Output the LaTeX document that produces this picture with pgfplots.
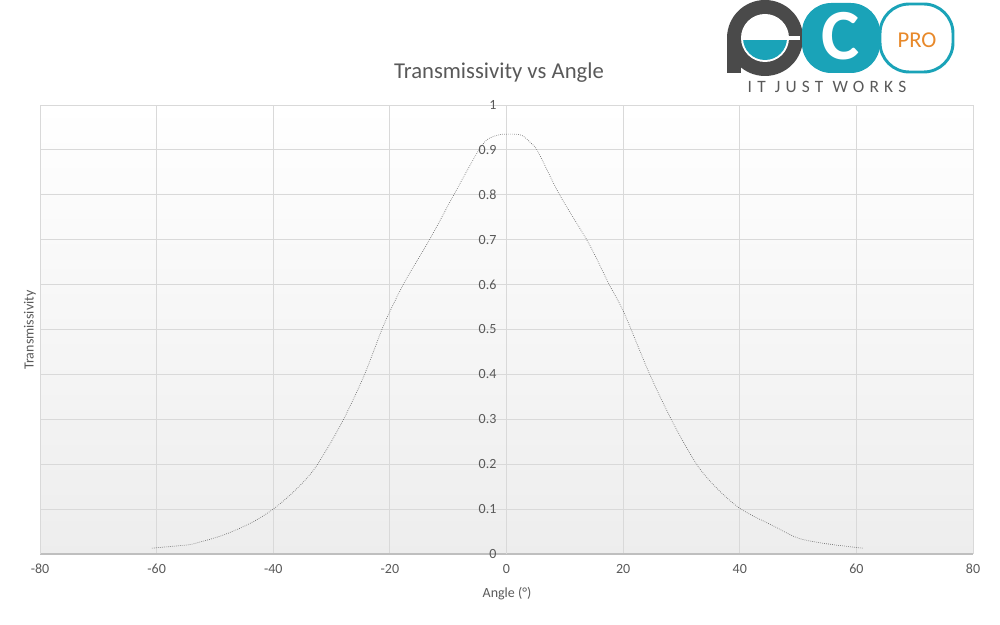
\documentclass[border=0pt]{standalone}
\usepackage{pgfplots}
\pgfplotsset{compat=1.18}
\usepackage{fontspec}
\setmainfont{Carlito}
\definecolor{txt}{HTML}{595959}
\definecolor{gridc}{HTML}{D9D9D9}
\definecolor{axc}{HTML}{BFBFBF}
\definecolor{teal1}{HTML}{1AA3B8}
\definecolor{dgray}{HTML}{4A4A4A}
\definecolor{orng}{HTML}{E8892A}
\begin{document}
\begin{tikzpicture}[x=0.75pt,y=0.75pt]
\path[use as bounding box] (0,0) rectangle (1000,625);
\begin{axis}[
  at={(30pt,53.25pt)}, anchor=south west,
  scale only axis, width=699.75pt, height=336.75pt,
  xmin=-80, xmax=80, ymin=0, ymax=1,
  xtick={-80,-60,...,80},
  ytick={0,0.1,...,1},
  axis x line*=bottom, axis y line*=left,
  x axis line style={-, draw=axc, line width=0.8pt},
  y axis line style={-, draw=gridc, line width=0.6pt},
  major tick length=0pt,
  grid=major,
  major grid style={draw=gridc, line width=0.6pt},
  extra x ticks={0}, extra x tick labels={},
  extra x tick style={grid style={draw=axc, line width=0.8pt}},
  axis background/.style={top color=white, middle color=white, bottom color=black!7},
  ticklabel style={font=\fontsize{10.5}{12}\selectfont, text=txt},
  /pgf/number format/assume math mode=true,
  yticklabel style={xshift=345.875pt},
  xticklabel style={yshift=-4pt},
  y tick label style={/pgf/number format/fixed},
]
\addplot[smooth, tension=0.5, draw=black!60, line width=0.5pt, densely dotted] coordinates {
(-60.8,0.013) (-55,0.020) (-53.3,0.024) (-48.6,0.042) (-44,0.068) (-40,0.100)
(-36,0.145) (-32.7,0.194) (-28.3,0.291) (-24.5,0.395) (-21.4,0.499) (-19.9,0.543)
(-17.3,0.610) (-13.2,0.700) (-9.2,0.796) (-5.1,0.892) (-3.4,0.922) (-1.5,0.933)
(0,0.935) (2.5,0.933) (4.2,0.915) (5.4,0.896) (9.1,0.800) (14.1,0.692)
(17.5,0.603) (20.2,0.536) (24.5,0.402) (28.6,0.291) (32.7,0.198) (36.1,0.146)
(40.2,0.100) (46.0,0.061) (50.1,0.035) (55.3,0.022) (61.1,0.013)
};
\end{axis}
% titles and labels
\node[text=txt, font=\fontsize{17}{20}\selectfont] at (499,552) {Transmissivity vs Angle};
\node[text=txt, font=\fontsize{10.5}{12}\selectfont, rotate=90] at (30,295) {Transmissivity};
\node[text=txt, font=\fontsize{10.5}{12}\selectfont] at (507,31) {Angle (°)};
% logo
\fill[dgray] (765,587) circle (38);
\fill[white] (765,587) circle (24);
\begin{scope}
\clip (765,587) circle (22);
\fill[teal1] (735,557) rectangle (800,587);
\end{scope}
\fill[dgray] (727,552) rectangle (741,587);
\fill[white] (741,585) rectangle (800,589);
\fill[teal1, rounded corners=22] (802,552) rectangle (880,622);
\node[white, font=\fontsize{54}{54}\selectfont\bfseries, inner sep=0pt] at (841,589) {C};
\draw[teal1, line width=2.2pt, rounded corners=22, fill=white] (880,553) rectangle (953,621);
\node[orng, font=\fontsize{17}{18}\selectfont] at (917,585) {PRO};
\node[text=black!65, font=\fontsize{13}{14}\selectfont\addfontfeature{LetterSpace=30}, inner sep=1pt] at (827,538) {IT JUST WORKS};
\end{tikzpicture}
\end{document}
